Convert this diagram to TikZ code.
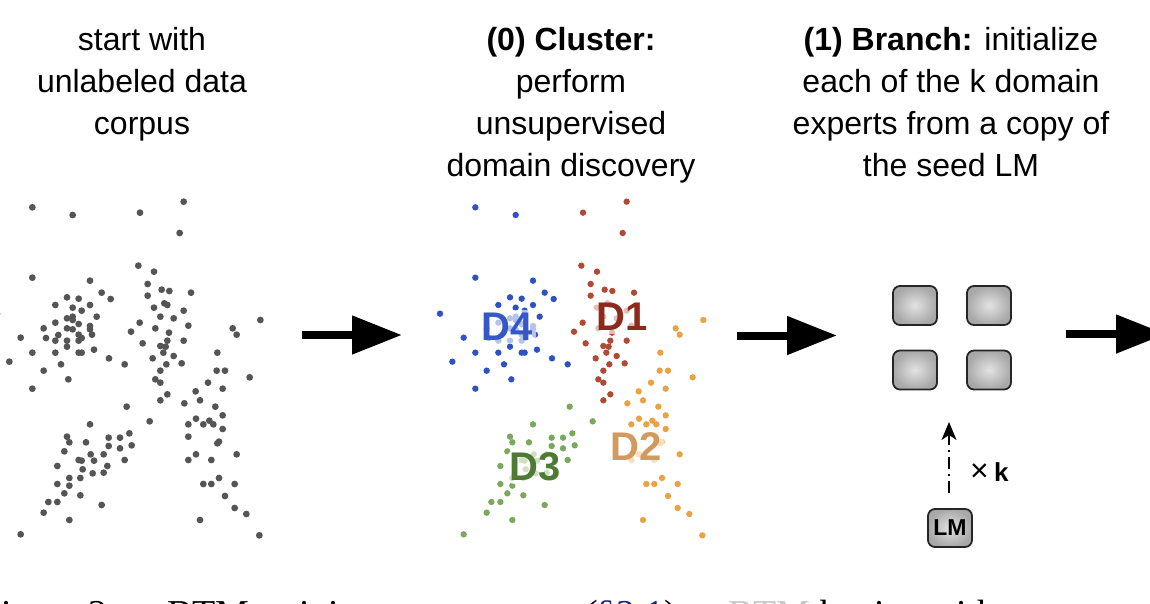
\documentclass[tikz,border=0pt]{standalone}
\usepackage{fontspec}
\setmainfont{Liberation Sans}
\newfontfamily\capfont{Liberation Serif}
\usetikzlibrary{arrows.meta}
\definecolor{dotgray}{HTML}{555555}
\definecolor{cblue}{HTML}{2E52C4}
\definecolor{cred}{HTML}{B04A35}
\definecolor{corange}{HTML}{EBA245}
\definecolor{cgreen}{HTML}{7AA85C}
\definecolor{lblue}{HTML}{3558C8}
\definecolor{lred}{HTML}{8E2A1C}
\definecolor{lorange}{HTML}{D4995C}
\definecolor{lgreen}{HTML}{4F7A33}
\definecolor{capblue}{HTML}{1A237E}
\newcommand\ptsDfour{97/52, 218/75, 97/263, -9/371, 62/443, 28/515, 97/488, 97/596, 131/542, 131/415, 138/444, 166/345, 201/322, 236/326, 270/345, 305/308, 332/327, 270/272, 218/353, 245/362, 201/385, 218/380, 218/390, 290/380, 166/398, 236/402, 201/415, 218/418, 270/408, 270/418, 276/434, 236/434, 245/444, 166/452, 175/435, 201/452, 236/452, 201/470, 166/488, 236/488, 245/488, 282/479, 183/523, 205/568, 327/505, 374/523}
\newcommand\ptsDone{420/68, 551/35, 539/129, 415/227, 462/245, 443/282, 485/299, 508/303, 443/317, 573/308, 493/340, 502/345, 462/353, 551/362, 481/380, 521/385, 419/398, 466/415, 565/407, 393/425, 507/428, 551/452, 428/460, 502/452, 481/468, 497/470, 490/488, 521/498, 458/505, 499/523, 545/520, 481/542, 466/568, 481/578, 502/613, 481/631}
\newcommand\ptsDtwo{698/415, 710/434, 781/390, 652/488, 650/542, 675/542, 749/562, 624/578, 668/596, 587/604, 600/631, 553/640, 646/650, 668/676, 588/686, 565/703, 610/703, 628/692, 640/703, 668/717, 565/740, 652/760, 657/755, 710/793, 588/793, 565/810, 634/810, 657/864, 610/882, 634/882, 704/882, 675/918, 704/954, 739/972, 600/990, 778/1036}
\newcommand\ptsDthree{380/650, 449/694, 270/703, 201/740, 208/757, 258/757, 326/743, 360/743, 388/730, 326/768, 360/775, 395/766, 193/784, 272/793, 311/793, 236/810, 245/812, 282/812, 374/810, 172/828, 322/828, 248/838, 278/850, 311/848, 208/864, 241/864, 172/882, 208/887, 193/910, 241/916, 145/936, 172/936, 131/968, 305/945, 208/990, 62/1033}
\begin{document}
\begin{tikzpicture}[x=1pt,y=-1pt,
  title/.style={align=center, inner sep=0pt, font=\fontsize{32}{42}\selectfont},
  lab/.style={font=\fontsize{40}{40}\bfseries\selectfont, fill=white, fill opacity=0.65, text opacity=1, inner sep=3pt, rounded corners=8pt},
  expert/.style={draw=black!85, line width=1.8pt, rounded corners=7pt, minimum width=44pt, minimum height=39pt, inner color=gray!22, outer color=gray!68},
  bigarrow/.style={line width=8pt, -{Triangle[length=50pt,width=37pt]}},
  dasharrow/.style={line width=2pt, dash pattern=on 12pt off 5pt on 2pt off 5pt, -{Stealth[length=18pt,width=15pt,inset=5pt]}},
  capt/.style={anchor=base west, inner sep=0pt, font=\capfont\fontsize{38}{38}\selectfont}]
\useasboundingbox (0,0) rectangle (1150,604);
\clip (0,0) rectangle (1150,604);
% titles (anchor base = baseline of last line)
\node[title, anchor=base] (t1) at (142,135) {start with\\unlabeled data\\corpus};
\node[title, anchor=base] (t2) at (571,177) {\textbf{(0) Cluster:}\\perform\\unsupervised\\domain discovery};
\node[title, anchor=base] (t3) at (951,177) {\textbf{(1) Branch:} initialize\\each of the k domain\\experts from a copy of\\the seed LM};
% left scatter
\begin{scope}[shift={(0,190)}, x=0.33333pt, y=-0.33333pt]
  \foreach \a/\b in \ptsDfour {\fill[dotgray] (\a,\b) circle[radius=3.4pt];}
  \foreach \a/\b in \ptsDone {\fill[dotgray] (\a,\b) circle[radius=3.4pt];}
  \foreach \a/\b in \ptsDtwo {\fill[dotgray] (\a,\b) circle[radius=3.4pt];}
  \foreach \a/\b in \ptsDthree {\fill[dotgray] (\a,\b) circle[radius=3.4pt];}
\end{scope}
% middle scatter
\begin{scope}[shift={(443,190)}, x=0.33333pt, y=-0.33333pt]
  \foreach \a/\b in \ptsDfour {\fill[cblue] (\a,\b) circle[radius=3.2pt];}
  \foreach \a/\b in \ptsDone {\fill[cred] (\a,\b) circle[radius=3.2pt];}
  \foreach \a/\b in \ptsDtwo {\fill[corange] (\a,\b) circle[radius=3.2pt];}
  \foreach \a/\b in \ptsDthree {\fill[cgreen] (\a,\b) circle[radius=3.2pt];}
\end{scope}
\node[lab, text=lblue] (d4) at (507.5,327) {D4};
\node[lab, text=lred] (d1) at (622.5,317) {D1};
\node[lab, text=lorange] (d2) at (636,447) {D2};
\node[lab, text=lgreen] (d3) at (535.5,467) {D3};
% experts
\node[expert] (e1) at (915,305.5) {};
\node[expert] (e2) at (989,305.5) {};
\node[expert] (e3) at (915,370) {};
\node[expert] (e4) at (989,370) {};
\node[expert, minimum height=38pt, font=\fontsize{23}{23}\bfseries\selectfont] (lm) at (950,528) {LM};
\coordinate (ds) at (949,493);
\coordinate (dt) at (949,422);
\draw[dasharrow] (ds) -- (dt);
\node[inner sep=0pt, anchor=base west] (xk) at (970,481) {\fontsize{32}{32}\selectfont×\,\fontsize{26}{26}\bfseries\selectfont k};
% big arrows
\coordinate (a1s) at (302,335); \coordinate (a1e) at (402,335);
\coordinate (a2s) at (737,335.5); \coordinate (a2e) at (837,335.5);
\coordinate (a3s) at (1066,334); \coordinate (a3e) at (1166,334);
\draw[bigarrow] (a1s) -- (a1e);
\draw[bigarrow] (a2s) -- (a2e);
\draw[bigarrow] (a3s) -- (a3e);
% cut-off caption line
\node[capt] (c1) at (-20,626) {Figure 2:};
\node[capt] (c2) at (167,626) {BTM training process};
\node[capt] (c3) at (585,626) {(\textcolor{capblue}{§2.1}).};
\node[capt] (c4) at (728,626) {\textcolor{gray!45}{BTM} begins with};
\end{tikzpicture}
\end{document}
